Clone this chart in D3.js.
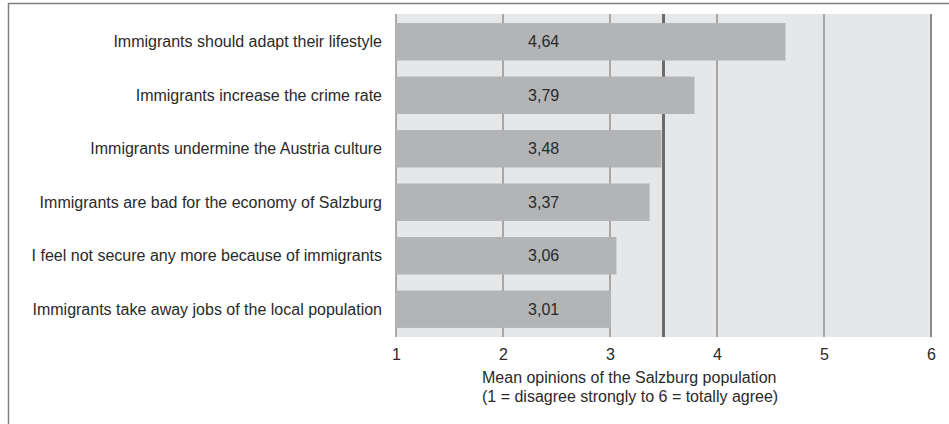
<!DOCTYPE html>
<html>
<head>
<meta charset="utf-8">
<script src="https://cdn.jsdelivr.net/npm/d3@7"></script>
<style>
  html, body { margin: 0; padding: 0; background: #fff; }
  svg { display: block; font-family: "Liberation Sans", Arial, Helvetica, sans-serif; }
</style>
</head>
<body>
<svg id="chart" width="949" height="424"></svg>
<script>
// Survey statements and their mean agreement scores
const statements = [
  "Immigrants should adapt their lifestyle",
  "Immigrants increase the crime rate",
  "Immigrants undermine the Austria culture",
  "Immigrants are bad for the economy of Salzburg",
  "I feel not secure any more because of immigrants",
  "Immigrants take away jobs of the local population"
];
const means = [4.64, 3.79, 3.48, 3.37, 3.06, 3.01];
const valueLabels = ["4,64", "3,79", "3,48", "3,37", "3,06", "3,01"];
const scaleTicks = [1, 2, 3, 4, 5, 6];
const midpoint = 3.5;
const labelPosition = 2.38;
const axisTitle = [
  "Mean opinions of the Salzburg population",
  "(1 = disagree strongly to 6 = totally agree)"
];

const svg = d3.select("#chart");

const plot = { left: 396, right: 931, top: 14, bottom: 337 };

const x = d3.scaleLinear().domain([1, 6]).range([plot.left, plot.right]);
const y = d3.scaleBand()
  .domain(statements)
  .range([plot.top, plot.bottom])
  .paddingInner(0.3)
  .paddingOuter(0.17);

// outer frame: top and left rules
svg.append("line")
  .attr("x1", 8).attr("x2", 949).attr("y1", 3.5).attr("y2", 3.5)
  .attr("stroke", "#7d7d7d").attr("stroke-width", 1.5);
svg.append("line")
  .attr("x1", 8.5).attr("x2", 8.5).attr("y1", 3).attr("y2", 424)
  .attr("stroke", "#7d7d7d").attr("stroke-width", 1.5);

// plot background
svg.append("rect")
  .attr("x", plot.left).attr("y", plot.top)
  .attr("width", plot.right - plot.left).attr("height", plot.bottom - plot.top)
  .attr("fill", "#e6e7e8");

// vertical gridlines
svg.append("g")
  .selectAll("line")
  .data(scaleTicks)
  .join("line")
  .attr("x1", d => x(d)).attr("x2", d => x(d))
  .attr("y1", plot.top).attr("y2", plot.bottom)
  .attr("stroke", "#8c8c8c")
  .attr("stroke-width", d => (d === 6 ? 2 : 1.4));

// scale midpoint rule
svg.append("line")
  .attr("x1", x(midpoint)).attr("x2", x(midpoint))
  .attr("y1", plot.top).attr("y2", plot.bottom)
  .attr("stroke", "#6b6b6b").attr("stroke-width", 3);

// bars
svg.append("g")
  .selectAll("rect")
  .data(means)
  .join("rect")
  .attr("x", x(1))
  .attr("y", (d, i) => y(statements[i]))
  .attr("width", d => x(d) - x(1))
  .attr("height", y.bandwidth())
  .attr("fill", "#b3b4b6");

// value labels inside bars
svg.append("g")
  .selectAll("text")
  .data(valueLabels)
  .join("text")
  .attr("x", x(labelPosition))
  .attr("y", (d, i) => y(statements[i]) + y.bandwidth() / 2)
  .attr("dy", "0.35em")
  .attr("text-anchor", "middle")
  .attr("font-size", 16)
  .attr("fill", "#2a2a2a")
  .text(d => d);

// category labels
svg.append("g")
  .selectAll("text")
  .data(statements)
  .join("text")
  .attr("x", 382)
  .attr("y", d => y(d) + y.bandwidth() / 2)
  .attr("dy", "0.35em")
  .attr("text-anchor", "end")
  .attr("font-size", 16)
  .attr("fill", "#2a2a2a")
  .text(d => d);

// x axis tick labels
const xAxis = d3.axisBottom(x).tickValues(scaleTicks).tickSize(0).tickPadding(0).tickFormat(d3.format("d"));
const gx = svg.append("g")
  .attr("transform", `translate(0,${plot.bottom})`)
  .call(xAxis);
gx.select(".domain").remove();
gx.selectAll("text")
  .attr("dy", null)
  .attr("y", 22.5)
  .attr("font-size", 16)
  .attr("font-family", "Liberation Sans, Arial, sans-serif")
  .attr("fill", "#2a2a2a");

// axis title
svg.append("g")
  .selectAll("text")
  .data(axisTitle)
  .join("text")
  .attr("x", 482)
  .attr("y", (d, i) => 383 + i * 18.5)
  .attr("font-size", 16)
  .attr("fill", "#2a2a2a")
  .text(d => d);
</script>
</body>
</html>
